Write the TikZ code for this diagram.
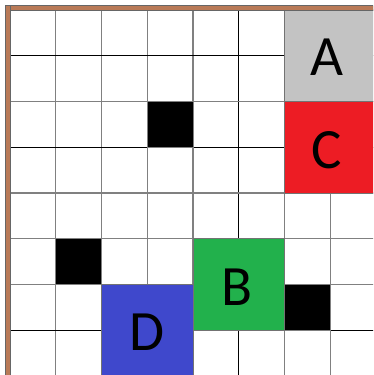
\documentclass[tikz,border=0pt]{standalone}
\usepackage{fontspec}
\setmainfont{Carlito}
\usetikzlibrary{positioning}
\definecolor{gdBrown}{HTML}{B97A57}
\definecolor{gdGray}{HTML}{C3C3C3}
\definecolor{gdRed}{HTML}{ED1C24}
\definecolor{gdGreen}{HTML}{22B14C}
\definecolor{gdBlue}{HTML}{3F48CC}
\tikzset{
    % grid lines
    gridthin/.style={draw=black!50, line width=1.2pt},
    gridthick/.style={draw=black, line width=1pt},
    % cells
    wall/.style={rectangle, fill=black, draw=black!50, line width=1pt, minimum width=45.75pt, minimum height=45.75pt, inner sep=0pt},
    agentbox/.style={rectangle, draw=black!55, line width=0.8pt, minimum width=91.5pt, minimum height=91.5pt, inner sep=0pt},
    agentlabel/.style={font=\fontsize{57}{57}\selectfont, inner sep=0pt}
}
\begin{document}
\begin{tikzpicture}[x=1pt,y=-1pt]
    \useasboundingbox (0,0) rectangle (373,375);
    \clip (0,0) rectangle (373,375);
    \fill[white] (0,0) rectangle (373,375);

    % Grid 8x8, origin (10,10), cell 45.75
    \foreach \k in {0,...,8} {
        \pgfmathsetmacro{\p}{10+45.75*\k}
        \ifnum\k=5
            \draw[gridthick] (\p,10) -- (\p,376);
        \else
            \draw[gridthin] (\p,10) -- (\p,376);
        \fi
    }
    \foreach \k in {0,2,4,5,6,8} {
        \pgfmathsetmacro{\p}{10+45.75*\k}
        \draw[gridthin] (10,\p) -- (376,\p);
    }
    \foreach \k in {1,3,7} {
        \pgfmathsetmacro{\p}{10+45.75*\k}
        \draw[gridthick] (10,\p) -- (376,\p);
    }

    % Walls
    \node[wall] (w1) at (170.125,124.375) {};
    \node[wall] (w2) at (78.625,261.625) {};
    \node[wall] (w3) at (307.375,307.375) {};

    % Labelled blocks
    \node[agentbox, fill=gdGray] (A) at (330.25,55.75) {};
    \node[agentbox, fill=gdRed] (C) at (330.25,147.25) {};
    \node[agentbox, fill=gdGreen] (B) at (238.75,284.5) {};
    \node[agentbox, fill=gdBlue] (D) at (147.25,330.25) {};
    \node[agentlabel] (labA) at ([xshift=-3pt,yshift=-1pt]A.center) {A};
    \node[agentlabel] (labC) at ([xshift=-4pt,yshift=-3pt]C.center) {C};
    \node[agentlabel] (labB) at ([xshift=-2pt,yshift=-3pt]B.center) {B};
    \node[agentlabel] (labD) at ([yshift=-2pt]D.center) {D};

    % Brown frame
    \fill[gdBrown, draw=black!60, line width=0.6pt] (5.5,5.5) rectangle (373.5,10);
    \fill[gdBrown, draw=black!60, line width=0.6pt] (5.5,5.5) rectangle (10,375.5);
\end{tikzpicture}
\end{document}
